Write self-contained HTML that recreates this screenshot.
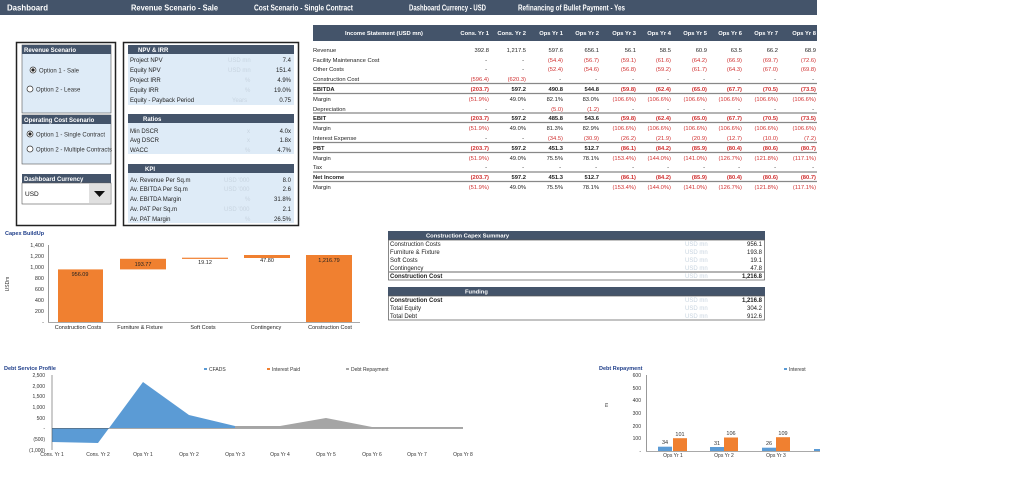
<!DOCTYPE html>
<html><head><meta charset="utf-8"><style>
body{margin:0;background:#fff;}
svg{display:block;font-family:"Liberation Sans",sans-serif;}
</style></head><body>
<svg width="1024" height="482" viewBox="0 0 1024 482" xmlns="http://www.w3.org/2000/svg">
<!-- top header -->
<rect x="0" y="0" width="817" height="15" fill="#44546a"/>
<g fill="#fff" font-size="8.5" font-weight="bold">
<text x="7" y="10.5" textLength="41" lengthAdjust="spacingAndGlyphs">Dashboard</text>
<text x="131" y="10.5" textLength="87" lengthAdjust="spacingAndGlyphs">Revenue Scenario - Sale</text>
<text x="254" y="10.5" textLength="99" lengthAdjust="spacingAndGlyphs">Cost Scenario - Single Contract</text>
<text x="409" y="10.5" textLength="77" lengthAdjust="spacingAndGlyphs">Dashboard Currency - USD</text>
<text x="518" y="10.5" textLength="107" lengthAdjust="spacingAndGlyphs">Refinancing of Bullet Payment - Yes</text>
</g>

<!-- left box -->
<rect x="16.5" y="42.5" width="99" height="183" fill="#fff" stroke="#222" stroke-width="1.5"/>
<rect x="22" y="45" width="89" height="68" fill="#deebf7" stroke="#555" stroke-width="0.6"/>
<rect x="22" y="45" width="89" height="9" fill="#44546a"/>
<text x="24" y="52" font-size="6" fill="#fff" font-weight="bold">Revenue Scenario</text>
<circle cx="33" cy="70" r="3" fill="#fff" stroke="#333" stroke-width="0.7"/><circle cx="33" cy="70" r="1.6" fill="#222"/>
<text x="39" y="72.5" font-size="6" fill="#333">Option  1 - Sale</text>
<circle cx="30" cy="89" r="3" fill="#fff" stroke="#333" stroke-width="0.7"/>
<text x="36" y="91.5" font-size="6" fill="#333">Option  2 - Lease</text>

<rect x="22" y="115" width="89" height="49" fill="#deebf7" stroke="#555" stroke-width="0.6"/>
<rect x="22" y="115" width="89" height="9" fill="#44546a"/>
<text x="24" y="122" font-size="6" fill="#fff" font-weight="bold">Operating Cost Scenario</text>
<circle cx="30" cy="134" r="3" fill="#fff" stroke="#333" stroke-width="0.7"/><circle cx="30" cy="134" r="1.6" fill="#222"/>
<text x="36" y="136.5" font-size="6" fill="#333">Option  1 - Single Contract</text>
<circle cx="30" cy="149" r="3" fill="#fff" stroke="#333" stroke-width="0.7"/>
<text x="36" y="151.5" font-size="6" fill="#333">Option  2 - Multiple Contracts</text>

<rect x="22" y="174" width="89" height="9" fill="#44546a"/>
<text x="24" y="181" font-size="6" fill="#fff" font-weight="bold">Dashboard Currency</text>
<rect x="22" y="183" width="89" height="21" fill="#fff" stroke="#555" stroke-width="0.6"/>
<text x="25" y="196" font-size="6.5" fill="#111">USD</text>
<rect x="89" y="184" width="21" height="19" fill="#e0e0e0"/>
<polygon points="94,191 105,191 99.5,197" fill="#111"/>

<!-- middle box -->
<rect x="123.5" y="42.5" width="175" height="183" fill="#fff" stroke="#222" stroke-width="1.5"/>
<g font-size="6" fill="#222">
<rect x="128" y="45" width="166" height="9" fill="#44546a"/>
<text x="138" y="52" fill="#fff" font-weight="bold">NPV &amp; IRR</text>
<rect x="128" y="54" width="166" height="51" fill="#deebf7"/>
<text x="130" y="62">Project NPV</text><text x="130" y="72">Equity NPV</text><text x="130" y="82">Project IRR</text><text x="130" y="92">Equity IRR</text><text x="130" y="102">Equity - Payback Period</text>
<g fill="#c8d4e0"><text x="228" y="62">USD mn</text><text x="228" y="72">USD mn</text><text x="245" y="82">%</text><text x="245" y="92">%</text><text x="232" y="102">Years</text></g>
<g text-anchor="end"><text x="291" y="62">7.4</text><text x="291" y="72">151.4</text><text x="291" y="82">4.9%</text><text x="291" y="92">19.0%</text><text x="291" y="102">0.75</text></g>

<rect x="128" y="114" width="166" height="9" fill="#44546a"/>
<text x="143" y="121" fill="#fff" font-weight="bold">Ratios</text>
<rect x="128" y="123" width="166" height="31" fill="#deebf7"/>
<text x="130" y="133">Min DSCR</text><text x="130" y="142">Avg DSCR</text><text x="130" y="152">WACC</text>
<g fill="#c8d4e0"><text x="247" y="133">x</text><text x="247" y="142">x</text><text x="245" y="152">%</text></g>
<g text-anchor="end"><text x="291" y="133">4.0x</text><text x="291" y="142">1.8x</text><text x="291" y="152">4.7%</text></g>

<rect x="128" y="164" width="166" height="9" fill="#44546a"/>
<text x="145" y="171" fill="#fff" font-weight="bold">KPI</text>
<rect x="128" y="173" width="166" height="50" fill="#deebf7"/>
<text x="130" y="182">Av. Revenue Per Sq.m</text><text x="130" y="191">Av. EBITDA Per Sq.m</text><text x="130" y="201">Av. EBITDA Margin</text><text x="130" y="211">Av. PAT Per Sq.m</text><text x="130" y="221">Av. PAT Margin</text>
<g fill="#c8d4e0"><text x="224" y="182">USD '000</text><text x="224" y="191">USD '000</text><text x="245" y="201">%</text><text x="224" y="211">USD '000</text><text x="245" y="221">%</text></g>
<g text-anchor="end"><text x="291" y="182">8.0</text><text x="291" y="191">2.6</text><text x="291" y="201">31.8%</text><text x="291" y="211">2.1</text><text x="291" y="221">26.5%</text></g>
</g>

<!-- income statement -->
<rect x="313" y="25" width="504" height="16" fill="#44546a"/>
<g font-size="5.8" fill="#fff" font-weight="bold">
<text x="345" y="35">Income Statement (USD mn)</text>
<g text-anchor="end"><text x="489" y="35">Cons. Yr 1</text><text x="526" y="35">Cons. Yr 2</text><text x="563" y="35">Ops Yr 1</text><text x="599" y="35">Ops Yr 2</text><text x="636" y="35">Ops Yr 3</text><text x="671" y="35">Ops Yr 4</text><text x="707" y="35">Ops Yr 5</text><text x="742" y="35">Ops Yr 6</text><text x="778" y="35">Ops Yr 7</text><text x="816" y="35">Ops Yr 8</text></g>
</g>
<g stroke="#888" stroke-width="1.2">
<line x1="313" y1="83.5" x2="817" y2="83.5"/><line x1="313" y1="93.5" x2="817" y2="93.5"/>
<line x1="313" y1="113" x2="817" y2="113"/><line x1="313" y1="122.5" x2="817" y2="122.5"/>
<line x1="313" y1="142.5" x2="817" y2="142.5"/><line x1="313" y1="152.5" x2="817" y2="152.5"/>
<line x1="313" y1="172" x2="817" y2="172"/><line x1="313" y1="181.5" x2="817" y2="181.5"/>
</g>
<g font-size="5.8" fill="#222">
<text x="313" y="52">Revenue</text><text x="313" y="62">Facility Maintenance Cost</text><text x="313" y="71">Other Costs</text><text x="313" y="81">Construction Cost</text>
<text x="313" y="91" font-weight="bold">EBITDA</text><text x="313" y="101">Margin</text><text x="313" y="111">Depreciation</text>
<text x="313" y="120" font-weight="bold">EBIT</text><text x="313" y="130">Margin</text><text x="313" y="140">Interest Expense</text>
<text x="313" y="150" font-weight="bold">PBT</text><text x="313" y="160">Margin</text><text x="313" y="169">Tax</text>
<text x="313" y="179" font-weight="bold">Net Income</text><text x="313" y="189">Margin</text>
</g>
<g font-size="5.8" text-anchor="end">
<g fill="#222"><text x="489" y="52">392.8</text><text x="526" y="52">1,217.5</text><text x="563" y="52">597.6</text><text x="599" y="52">656.1</text><text x="636" y="52">56.1</text><text x="671" y="52">58.5</text><text x="707" y="52">60.9</text><text x="742" y="52">63.5</text><text x="778" y="52">66.2</text><text x="816" y="52">68.9</text></g>
<g fill="#222"><text x="487" y="62">-</text><text x="524" y="62">-</text><text x="487" y="71">-</text><text x="524" y="71">-</text></g>
<g fill="#d03030"><text x="563" y="62">(54.4)</text><text x="599" y="62">(56.7)</text><text x="636" y="62">(59.1)</text><text x="671" y="62">(61.6)</text><text x="707" y="62">(64.2)</text><text x="742" y="62">(66.9)</text><text x="778" y="62">(69.7)</text><text x="816" y="62">(72.6)</text>
<text x="563" y="71">(52.4)</text><text x="599" y="71">(54.6)</text><text x="636" y="71">(56.8)</text><text x="671" y="71">(59.2)</text><text x="707" y="71">(61.7)</text><text x="742" y="71">(64.3)</text><text x="778" y="71">(67.0)</text><text x="816" y="71">(69.8)</text>
<text x="489" y="81">(596.4)</text><text x="526" y="81">(620.3)</text></g>
<g fill="#222"><text x="561" y="81">-</text><text x="597" y="81">-</text><text x="634" y="81">-</text><text x="669" y="81">-</text><text x="705" y="81">-</text><text x="740" y="81">-</text><text x="776" y="81">-</text><text x="814" y="81">-</text></g>
<g font-weight="bold"><text x="489" y="91" fill="#d03030">(203.7)</text><text x="526" y="91" fill="#222">597.2</text><text x="563" y="91" fill="#222">490.8</text><text x="599" y="91" fill="#222">544.8</text>
<g fill="#d03030"><text x="636" y="91">(59.8)</text><text x="671" y="91">(62.4)</text><text x="707" y="91">(65.0)</text><text x="742" y="91">(67.7)</text><text x="778" y="91">(70.5)</text><text x="816" y="91">(73.5)</text></g></g>
<text x="489" y="101" fill="#d03030">(51.9%)</text><text x="526" y="101" fill="#222">49.0%</text><text x="563" y="101" fill="#222">82.1%</text><text x="599" y="101" fill="#222">83.0%</text>
<g fill="#d03030"><text x="636" y="101">(106.6%)</text><text x="671" y="101">(106.6%)</text><text x="707" y="101">(106.6%)</text><text x="742" y="101">(106.6%)</text><text x="778" y="101">(106.6%)</text><text x="816" y="101">(106.6%)</text></g>
<g fill="#222"><text x="487" y="111">-</text><text x="524" y="111">-</text><text x="634" y="111">-</text><text x="669" y="111">-</text><text x="705" y="111">-</text><text x="740" y="111">-</text><text x="776" y="111">-</text><text x="814" y="111">-</text></g>
<g fill="#d03030"><text x="563" y="111">(5.0)</text><text x="599" y="111">(1.2)</text></g>
<g font-weight="bold"><text x="489" y="120" fill="#d03030">(203.7)</text><text x="526" y="120" fill="#222">597.2</text><text x="563" y="120" fill="#222">485.8</text><text x="599" y="120" fill="#222">543.6</text>
<g fill="#d03030"><text x="636" y="120">(59.8)</text><text x="671" y="120">(62.4)</text><text x="707" y="120">(65.0)</text><text x="742" y="120">(67.7)</text><text x="778" y="120">(70.5)</text><text x="816" y="120">(73.5)</text></g></g>
<text x="489" y="130" fill="#d03030">(51.9%)</text><text x="526" y="130" fill="#222">49.0%</text><text x="563" y="130" fill="#222">81.3%</text><text x="599" y="130" fill="#222">82.9%</text>
<g fill="#d03030"><text x="636" y="130">(106.6%)</text><text x="671" y="130">(106.6%)</text><text x="707" y="130">(106.6%)</text><text x="742" y="130">(106.6%)</text><text x="778" y="130">(106.6%)</text><text x="816" y="130">(106.6%)</text></g>
<g fill="#222"><text x="487" y="140">-</text><text x="524" y="140">-</text></g>
<g fill="#d03030"><text x="563" y="140">(34.5)</text><text x="599" y="140">(30.9)</text><text x="636" y="140">(26.2)</text><text x="671" y="140">(21.9)</text><text x="707" y="140">(20.9)</text><text x="742" y="140">(12.7)</text><text x="778" y="140">(10.0)</text><text x="816" y="140">(7.2)</text></g>
<g font-weight="bold"><text x="489" y="150" fill="#d03030">(203.7)</text><text x="526" y="150" fill="#222">597.2</text><text x="563" y="150" fill="#222">451.3</text><text x="599" y="150" fill="#222">512.7</text>
<g fill="#d03030"><text x="636" y="150">(86.1)</text><text x="671" y="150">(84.2)</text><text x="707" y="150">(85.9)</text><text x="742" y="150">(80.4)</text><text x="778" y="150">(80.6)</text><text x="816" y="150">(80.7)</text></g></g>
<text x="489" y="160" fill="#d03030">(51.9%)</text><text x="526" y="160" fill="#222">49.0%</text><text x="563" y="160" fill="#222">75.5%</text><text x="599" y="160" fill="#222">78.1%</text>
<g fill="#d03030"><text x="636" y="160">(153.4%)</text><text x="671" y="160">(144.0%)</text><text x="707" y="160">(141.0%)</text><text x="742" y="160">(126.7%)</text><text x="778" y="160">(121.8%)</text><text x="816" y="160">(117.1%)</text></g>
<g fill="#222"><text x="487" y="169">-</text><text x="524" y="169">-</text><text x="561" y="169">-</text><text x="597" y="169">-</text><text x="634" y="169">-</text><text x="669" y="169">-</text><text x="705" y="169">-</text><text x="740" y="169">-</text><text x="776" y="169">-</text><text x="814" y="169">-</text></g>
<g font-weight="bold"><text x="489" y="179" fill="#d03030">(203.7)</text><text x="526" y="179" fill="#222">597.2</text><text x="563" y="179" fill="#222">451.3</text><text x="599" y="179" fill="#222">512.7</text>
<g fill="#d03030"><text x="636" y="179">(86.1)</text><text x="671" y="179">(84.2)</text><text x="707" y="179">(85.9)</text><text x="742" y="179">(80.4)</text><text x="778" y="179">(80.6)</text><text x="816" y="179">(80.7)</text></g></g>
<text x="489" y="189" fill="#d03030">(51.9%)</text><text x="526" y="189" fill="#222">49.0%</text><text x="563" y="189" fill="#222">75.5%</text><text x="599" y="189" fill="#222">78.1%</text>
<g fill="#d03030"><text x="636" y="189">(153.4%)</text><text x="671" y="189">(144.0%)</text><text x="707" y="189">(141.0%)</text><text x="742" y="189">(126.7%)</text><text x="778" y="189">(121.8%)</text><text x="816" y="189">(117.1%)</text></g>
</g>

<!-- Capex buildup chart -->
<text x="5" y="235" font-size="5.5" font-weight="bold" fill="#1f3e8a">Capex BuildUp</text>
<g font-size="5.5" fill="#333" text-anchor="end">
<text x="44" y="247">1,400</text><text x="44" y="258">1,200</text><text x="44" y="269">1,000</text><text x="44" y="280">800</text><text x="44" y="291">600</text><text x="44" y="302">400</text><text x="44" y="313">200</text><text x="44" y="324">-</text>
</g>
<text x="9" y="284" font-size="5" fill="#333" transform="rotate(-90 9 284)" text-anchor="middle">USDm</text>
<line x1="48.5" y1="245" x2="48.5" y2="322" stroke="#555" stroke-width="0.6"/>
<line x1="48" y1="322.5" x2="360" y2="322.5" stroke="#555" stroke-width="0.6"/>
<g fill="#f08030">
<rect x="58" y="269.4" width="45" height="52.6"/>
<rect x="120" y="258.8" width="46" height="10.6"/>
<rect x="182" y="257.7" width="46" height="1.2"/>
<rect x="244" y="255" width="46" height="3"/>
<rect x="306" y="255" width="46" height="67"/>
</g>
<g font-size="5.5" fill="#222" text-anchor="middle">
<text x="80" y="276">956.09</text><text x="143" y="266">193.77</text><text x="205" y="264">19.12</text><text x="267" y="262">47.80</text><text x="329" y="262">1,216.79</text>
<text x="78" y="329">Construction Costs</text><text x="140" y="329">Furniture &amp; Fixture</text><text x="203" y="329">Soft Costs</text><text x="266" y="329">Contingency</text><text x="330" y="329">Construction Cost</text>
</g>

<!-- Construction Capex Summary -->
<rect x="388" y="231" width="377" height="9" fill="#44546a"/>
<text x="426" y="237.5" font-size="5.8" font-weight="bold" fill="#fff">Construction Capex Summary</text>
<rect x="388.5" y="240" width="376" height="40" fill="none" stroke="#555" stroke-width="0.7"/>
<line x1="388" y1="272" x2="765" y2="272" stroke="#888" stroke-width="1.2"/>
<g font-size="6" fill="#222">
<text x="390" y="246">Construction Costs</text><text x="390" y="254">Furniture &amp; Fixture</text><text x="390" y="262">Soft Costs</text><text x="390" y="270">Contingency</text><text x="390" y="278" font-weight="bold">Construction Cost</text>
<g fill="#c8d4e0"><text x="685" y="246">USD mn</text><text x="685" y="254">USD mn</text><text x="685" y="262">USD mn</text><text x="685" y="270">USD mn</text><text x="685" y="278">USD mn</text></g>
<g text-anchor="end"><text x="762" y="246">956.1</text><text x="762" y="254">193.8</text><text x="762" y="262">19.1</text><text x="762" y="270">47.8</text><text x="762" y="278" font-weight="bold">1,216.8</text></g>
</g>
<rect x="388" y="287" width="377" height="9" fill="#44546a"/>
<text x="465" y="293.5" font-size="5.8" font-weight="bold" fill="#fff">Funding</text>
<rect x="388.5" y="296" width="376" height="24" fill="none" stroke="#555" stroke-width="0.7"/>
<g font-size="6" fill="#222">
<text x="390" y="302" font-weight="bold">Construction Cost</text><text x="390" y="310">Total Equity</text><text x="390" y="318">Total Debt</text>
<g fill="#c8d4e0"><text x="685" y="302">USD mn</text><text x="685" y="310">USD mn</text><text x="685" y="318">USD mn</text></g>
<g text-anchor="end"><text x="762" y="302" font-weight="bold">1,216.8</text><text x="762" y="310">304.2</text><text x="762" y="318">912.6</text></g>
</g>

<!-- Debt Service Profile -->
<text x="4" y="370" font-size="5.5" font-weight="bold" fill="#1f3e8a">Debt Service Profile</text>
<g font-size="5" fill="#333">
<rect x="204" y="368" width="3" height="2" fill="#5b9bd5"/><text x="209" y="371">CFADS</text>
<rect x="267" y="368" width="3" height="2" fill="#f08030"/><text x="272" y="371">Interest Paid</text>
<rect x="346" y="368" width="3" height="2" fill="#a5a5a5"/><text x="351" y="371">Debt Repayment</text>
</g>
<g font-size="5" fill="#333" text-anchor="end">
<text x="45" y="377">2,500</text><text x="45" y="388">2,000</text><text x="45" y="398">1,500</text><text x="45" y="409">1,000</text><text x="45" y="420">500</text><text x="45" y="430">-</text><text x="45" y="441">(500)</text><text x="45" y="452">(1,000)</text>
</g>
<polygon points="52,428 52,442 98,443 143,382 189,415 235,426 235,428" fill="#5b9bd5"/>
<polygon points="235,428 235,426 280,426 326,418 372,427 417,427 463,427 463,428" fill="#a5a5a5"/>
<line x1="52" y1="375" x2="52" y2="450" stroke="#555" stroke-width="0.6"/>
<line x1="52" y1="428.5" x2="463" y2="428.5" stroke="#555" stroke-width="0.6"/>
<g font-size="5" fill="#333" text-anchor="middle">
<text x="52" y="456">Cons. Yr 1</text><text x="98" y="456">Cons. Yr 2</text><text x="143" y="456">Ops Yr 1</text><text x="189" y="456">Ops Yr 2</text><text x="235" y="456">Ops Yr 3</text><text x="280" y="456">Ops Yr 4</text><text x="326" y="456">Ops Yr 5</text><text x="372" y="456">Ops Yr 6</text><text x="417" y="456">Ops Yr 7</text><text x="463" y="456">Ops Yr 8</text>
</g>

<!-- Debt Repayment -->
<text x="599" y="370" font-size="5.5" font-weight="bold" fill="#1f3e8a">Debt Repayment</text>
<rect x="784" y="368" width="3" height="2" fill="#5b9bd5"/><text x="789" y="371" font-size="5" fill="#333">Interest</text>
<g font-size="5" fill="#333" text-anchor="end">
<text x="641" y="377">600</text><text x="641" y="390">500</text><text x="641" y="402">400</text><text x="641" y="415">300</text><text x="641" y="428">200</text><text x="641" y="440">100</text><text x="641" y="453">-</text>
</g>
<text x="608" y="405" font-size="5" fill="#333" transform="rotate(-90 608 405)" text-anchor="middle">m</text>
<line x1="646.5" y1="375" x2="646.5" y2="451" stroke="#555" stroke-width="0.6"/>
<line x1="646" y1="451.5" x2="820" y2="451.5" stroke="#555" stroke-width="0.6"/>
<g fill="#5b9bd5"><rect x="658" y="446.7" width="14" height="4.3"/><rect x="710" y="447" width="14" height="4"/><rect x="762" y="447.7" width="14" height="3.3"/><rect x="814" y="449" width="6" height="2"/></g>
<g fill="#f08030"><rect x="673" y="438.2" width="14" height="12.8"/><rect x="724" y="437.5" width="14" height="13.5"/><rect x="776" y="437.2" width="14" height="13.8"/></g>
<g font-size="5.5" fill="#333" text-anchor="middle">
<text x="665" y="444">34</text><text x="680" y="436">101</text><text x="717" y="445">31</text><text x="731" y="435">106</text><text x="769" y="445">26</text><text x="783" y="435">109</text>
</g>
<g font-size="5" fill="#333" text-anchor="middle"><text x="673" y="457">Ops Yr 1</text><text x="724" y="457">Ops Yr 2</text><text x="776" y="457">Ops Yr 3</text></g>
</svg>
</body></html>
